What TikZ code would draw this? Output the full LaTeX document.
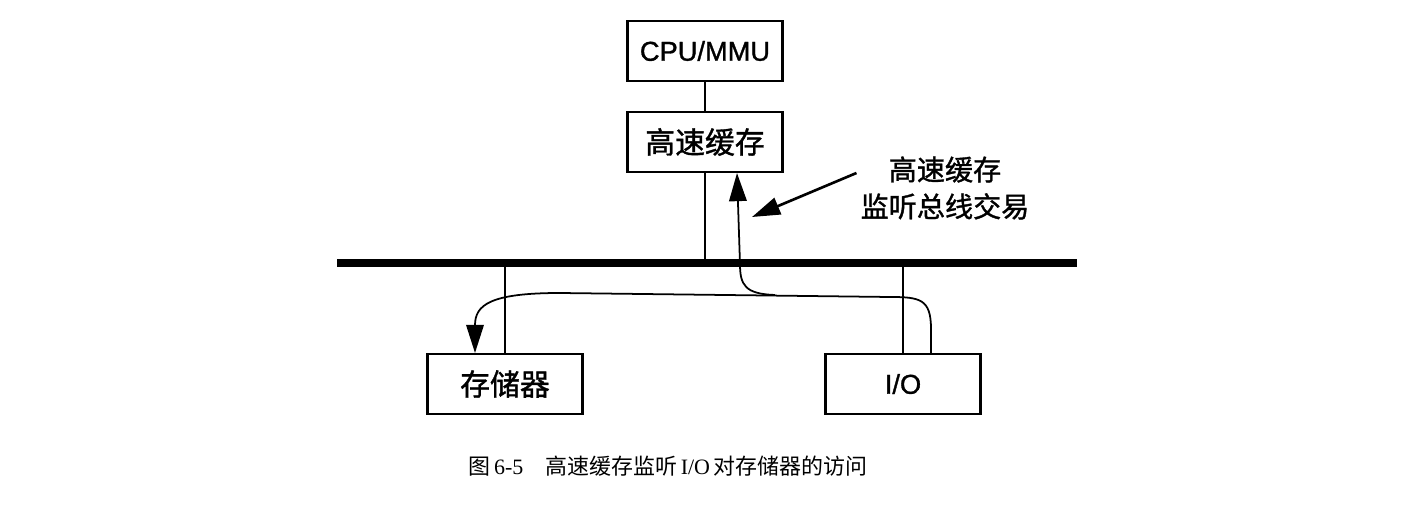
\documentclass[tikz,border=0pt]{standalone}
\usepackage{fontspec}
\setmainfont{Liberation Serif}
\setsansfont{Liberation Sans}[FakeBold=1.2]
\newfontfamily\cjk{Noto Sans CJK SC}[FakeBold=1.2]
\newfontfamily\cjkcap{Noto Sans CJK SC}
\usetikzlibrary{arrows.meta,calc}

\begin{document}
\begin{tikzpicture}[
  x=0.02cm,y=-0.02cm,
  >={Triangle[length=16pt,width=10pt]},
  box/.style={draw,line width=1.2pt,minimum width=3.1cm,minimum height=1.2cm,
    inner sep=0pt,font=\sffamily\fontsize{15.5pt}{18pt}\selectfont},
  wire/.style={line width=1pt},
  flow/.style={line width=1pt,->}
]
\useasboundingbox (0,0) rectangle (1418,520);
\node[box] (cpu) at (705,51) {CPU/MMU};
\node[box] (cache) at (705,142) {\cjk\fontsize{17pt}{20pt}\selectfont 高速缓存};
\node[box] (mem) at (505,384) {\cjk\fontsize{17pt}{20pt}\selectfont 存储器};
\node[box] (io) at (903,384) {I/O};
\coordinate (busL) at (337,263);
\coordinate (busR) at (1077,263);
\draw[line width=4pt] (busL) -- (busR);
\draw[wire] (cpu) -- (cache);
\draw[wire] (cache.south) -- (cache.south |- busL);
\draw[wire] (mem.north) -- (mem.north |- busL);
\draw[wire] (io.north) -- (io.north |- busL);
% I/O writes to memory
\coordinate (ioout) at ($(io.north)+(28,0)$);
\coordinate (memin) at ($(mem.north)+(-30,0)$);
\draw[flow] (ioout) -- ++(0,-24) .. controls +(0,-30) and (920,297) .. (890,297)
  -- (560,293) .. controls (490,293) and (475,305) .. (memin);
% cache snoops the bus
\coordinate (tap) at (775,295);
\draw[flow] (tap) .. controls (745,294) and (740,285) .. (740,264)
  -- ($(cache.south)+(32,0)$);
\node[font=\cjk\fontsize{16pt}{21pt}\selectfont,align=center] (note) at (945,188)
  {高速缓存\\监听总线交易};
\coordinate (snoop) at (752,217);
\draw[flow,line width=1.5pt] ($(note.west)+(2,-15)$) -- (snoop);
\node[font=\fontsize{12.5pt}{15pt}\selectfont] (cap) at (668,466)
  {{\cjkcap 图}\,6-5\quad{\cjkcap 高速缓存监听}\,I/O\,{\cjkcap 对存储器的访问}};
\end{tikzpicture}
\end{document}
